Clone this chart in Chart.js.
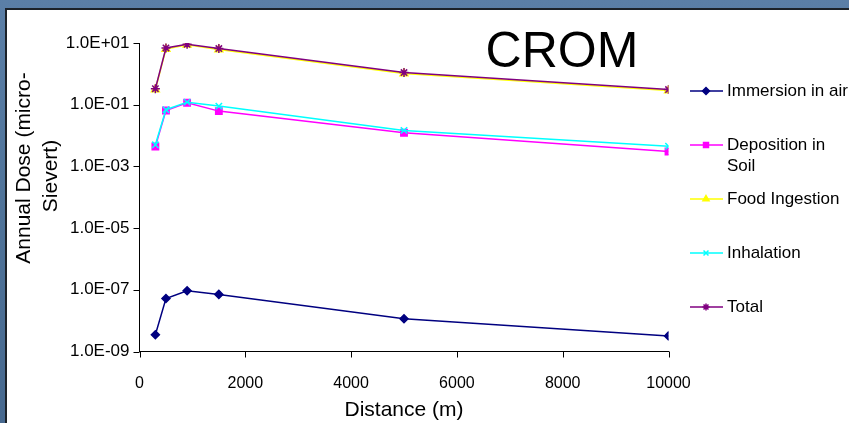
<!DOCTYPE html>
<html>
<head>
<meta charset="utf-8">
<script src="https://cdn.jsdelivr.net/npm/chart.js@4.4.1/dist/chart.umd.min.js"></script>
<style>
  html, body { margin: 0; padding: 0; width: 849px; height: 423px; overflow: hidden;
    background: linear-gradient(180deg, #5b7fa7 0%, #4f7399 50%, #47698f 100%); }
  #panel { position: absolute; left: 5px; top: 8px; width: 844px; height: 415px;
    background: #ffffff; border-left: 2px solid #1c2229; border-top: 2px solid #1c2229; box-sizing: border-box; }
  #wrap { position: absolute; left: 0; top: 0; width: 849px; height: 423px; }
</style>
</head>
<body>
<div id="panel"></div>
<div id="wrap"><canvas id="c" width="849" height="423"></canvas></div>
<script>
// ---- data ----
const distances = [300, 500, 900, 1500, 5000, 10000];
const immersionInAir = [3.5e-9, 5.2e-8, 9.3e-8, 7.1e-8, 1.15e-8, 3.2e-9];
const depositionInSoil = [0.0044, 0.065, 0.116, 0.062, 0.0123, 0.00305];
const foodIngestion = [0.31, 6.4, 8.7, 6.2, 1.02, 0.29];
const inhalation = [0.005, 0.069, 0.121, 0.090, 0.0147, 0.0045];
const total = [0.33, 6.9, 9.1, 6.6, 1.1, 0.31];
const seriesNames = ['Immersion in air', 'Deposition in\nSoil', 'Food Ingestion', 'Inhalation', 'Total'];
const yTickValues = [1e-9, 1e-7, 1e-5, 1e-3, 1e-1, 1e1];
const yTickLabels = ['1.0E-09', '1.0E-07', '1.0E-05', '1.0E-03', '1.0E-01', '1.0E+01'];
const xTickValues = [0, 2000, 4000, 6000, 8000, 10000];
const chartTitle = 'CROM';
const xTitle = 'Distance (m)';
const yTitleLines = ['Annual Dose (micro-', 'Sievert)'];

const FONT = 'Arial, "Liberation Sans", sans-serif';

function pts(ys) { return distances.map((x, i) => ({ x: x, y: ys[i] })); }

const styles = [
  { color: '#000080', pointStyle: 'rectRot', radius: 4, order: 5 },
  { color: '#FF00FF', pointStyle: 'rect', radius: 4.5, order: 4 },
  { color: '#FFFF00', pointStyle: 'triangle', radius: 4.5, order: 3 },
  { color: '#00FFFF', pointStyle: 'crossRot', radius: 4.5, order: 2 },
  { color: '#800080', pointStyle: 'star', radius: 4.5, order: 1 }
];
const seriesData = [immersionInAir, depositionInSoil, foodIngestion, inhalation, total];

const datasets = seriesData.map((d, i) => ({
  label: seriesNames[i].replace('\n', ' '),
  data: pts(d),
  borderColor: styles[i].color,
  backgroundColor: styles[i].color,
  pointBorderColor: styles[i].color,
  pointBackgroundColor: styles[i].color,
  pointStyle: styles[i].pointStyle,
  pointRadius: styles[i].radius,
  pointBorderWidth: 1.5,
  borderWidth: 1.5,
  order: styles[i].order,
  tension: 0
}));

const decorPlugin = {
  id: 'decor',
  afterDraw(chart) {
    const ctx = chart.ctx;
    const area = chart.chartArea;
    ctx.save();
    // tick marks (outside the axes)
    ctx.strokeStyle = '#000';
    ctx.lineWidth = 1;
    const ys = chart.scales.y, xs = chart.scales.x;
    yTickValues.forEach(v => {
      const py = Math.round(ys.getPixelForValue(v)) + 0.5;
      ctx.beginPath(); ctx.moveTo(area.left - 6, py); ctx.lineTo(area.left, py); ctx.stroke();
    });
    xTickValues.forEach(v => {
      const px = Math.round(xs.getPixelForValue(v)) + 0.5;
      ctx.beginPath(); ctx.moveTo(px, area.bottom); ctx.lineTo(px, area.bottom + 6); ctx.stroke();
    });

    // title inside plot
    ctx.fillStyle = '#000';
    ctx.font = '50px ' + FONT;
    ctx.textAlign = 'center';
    ctx.textBaseline = 'middle';
    ctx.fillText(chartTitle, 562, 53);

    // y title
    ctx.font = '21px ' + FONT;
    const yCenters = [[24, 168], [51, 176]];
    yTitleLines.forEach((t, i) => {
      ctx.save();
      ctx.translate(yCenters[i][0], yCenters[i][1]);
      ctx.rotate(-Math.PI / 2);
      ctx.textAlign = 'center';
      ctx.textBaseline = 'middle';
      ctx.fillText(t, 0, 0);
      ctx.restore();
    });

    // legend
    ctx.font = '17px ' + FONT;
    ctx.textAlign = 'left';
    ctx.textBaseline = 'middle';
    seriesNames.forEach((name, i) => {
      const y = 91 + i * 54;
      ctx.strokeStyle = styles[i].color;
      ctx.lineWidth = 1.5;
      ctx.beginPath();
      ctx.moveTo(690, y);
      ctx.lineTo(723, y);
      ctx.stroke();
      ctx.fillStyle = styles[i].color;
      ctx.lineWidth = 1.5;
      Chart.helpers.drawPoint(ctx, { pointStyle: styles[i].pointStyle, radius: 3.5, borderWidth: 1.5, rotation: 0 }, 706, y);
      ctx.fillStyle = '#000';
      name.split('\n').forEach((line, j) => {
        ctx.fillText(line, 727, y + j * 21);
      });
    });
    ctx.restore();
  }
};

new Chart(document.getElementById('c'), {
  type: 'line',
  data: { datasets: datasets },
  plugins: [decorPlugin],
  options: {
    responsive: false,
    animation: false,
    devicePixelRatio: 1,
    layout: { padding: { left: 0, top: 43, right: 180.5, bottom: 0 } },
    plugins: { legend: { display: false }, title: { display: false }, tooltip: { enabled: false } },
    scales: {
      x: {
        type: 'linear',
        min: 0, max: 10000,
        afterFit(s) { s.height = 423 - 351.5; },
        afterBuildTicks(s) { s.ticks = xTickValues.map(v => ({ value: v })); },
        grid: { display: false, drawOnChartArea: false, drawTicks: true, tickLength: 6 },
        border: { display: true, color: '#000', width: 1 },
        ticks: { color: '#000', font: { family: FONT, size: 16 }, padding: 16, maxRotation: 0, autoSkip: false,
                 callback: v => String(v) },
        title: { display: true, text: xTitle, color: '#000', font: { family: FONT, size: 21 }, padding: { top: 0, bottom: 0 } }
      },
      y: {
        type: 'logarithmic',
        min: 1e-9, max: 10,
        afterFit(s) { s.width = 139.5; },
        afterBuildTicks(s) { s.ticks = yTickValues.map(v => ({ value: v })); },
        grid: { display: false, drawOnChartArea: false, drawTicks: true, tickLength: 6 },
        border: { display: true, color: '#000', width: 1 },
        ticks: { color: '#000', font: { family: FONT, size: 17 }, padding: 4, autoSkip: false,
                 callback: (v) => { const k = yTickValues.findIndex(t => Math.abs(Math.log10(t) - Math.log10(v)) < 1e-6); return k >= 0 ? yTickLabels[k] : ''; } }
      }
    }
  }
});
</script>
</body>
</html>
